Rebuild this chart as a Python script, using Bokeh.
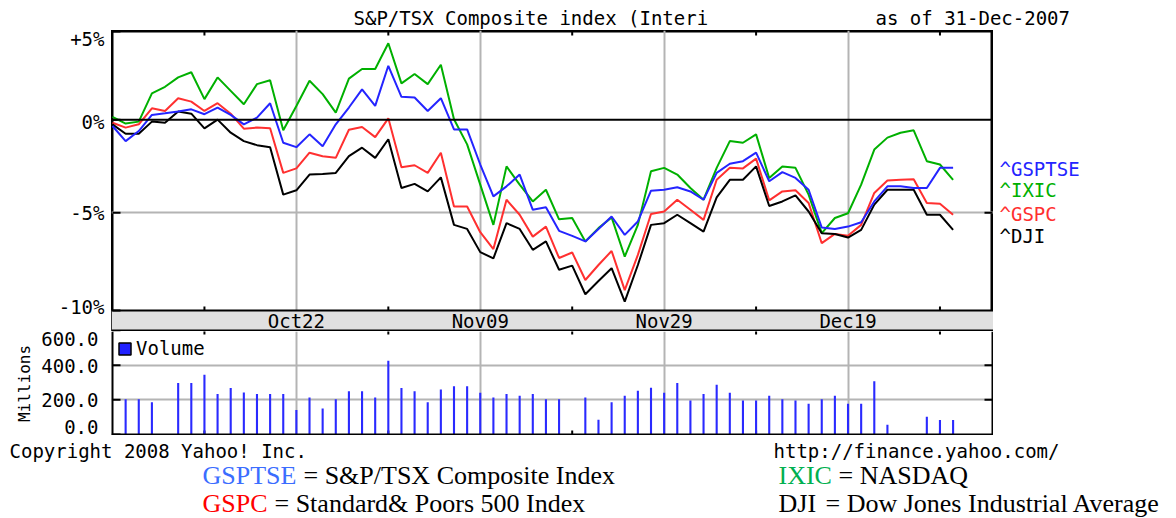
import math
import numpy as np
import pandas as pd
from bokeh.plotting import figure
from bokeh.models import (FixedTicker, Label, Span, Legend, LegendItem, Range1d,
                          Spacer, BoxAnnotation)
from bokeh.layouts import column, row
from bokeh.embed import file_html
from bokeh.resources import INLINE
from bokeh.core.properties import value

# ---------------- data ----------------
# trading weekdays 2-Oct-2007 .. 31-Dec-2007
dates = pd.bdate_range("2007-10-02", "2007-12-31")
day_names = [d.strftime("%b%d") for d in dates]

# % change since start of period
gsptse = [-0.34, -1.17, -0.62, 0.27, 0.36, 0.46, 0.58, 0.31, 0.68, 0.27,
          -0.25, 0.12, 0.92, -1.26, -1.50, -0.80, -1.45, -0.25, 0.68, 1.70,
          0.77, 3.03, 1.28, 1.24, 0.49, 1.20, -0.53, -0.53, -2.44, -4.14,
          -3.61, -2.98, -4.85, -4.72, -5.95, -6.21, -6.50, -5.85, -5.20, -6.16,
          -5.46, -3.84, -3.79, -3.66, -3.88, -4.32, -2.89, -2.40, -2.26, -1.80,
          -3.34, -2.85, -3.16, -3.79, -5.78, -5.86, -5.73, -5.50, -4.41, -3.61,
          -3.61, -3.70, -3.70, -2.62, -2.62]
ixic = [0.16, -0.21, -0.10, 1.47, 1.84, 2.37, 2.66, 1.15, 2.37, 1.61,
        0.86, 1.99, 2.21, -0.58, 0.77, 2.18, 1.43, 0.40, 2.30, 2.85,
        2.85, 4.32, 2.03, 2.56, 1.99, 3.09, 0.03, -1.35, -3.52, -5.64,
        -2.54, -3.52, -4.41, -3.79, -5.35, -5.28, -6.50, -5.81, -5.25, -7.28,
        -5.64, -2.80, -2.62, -2.98, -3.70, -4.32, -2.62, -1.17, -1.26, -0.80,
        -3.17, -2.55, -2.62, -4.05, -6.07, -5.28, -5.03, -3.52, -1.63, -0.98,
        -0.71, -0.58, -2.26, -2.44, -3.26]
gspc = [-0.16, -0.43, -0.25, 0.64, 0.49, 1.20, 1.01, 0.49, 0.92, 0.34,
        -0.49, -0.43, -0.47, -2.89, -2.65, -1.80, -1.99, -2.08, -0.55, -0.40,
        -0.95, 0.08, -2.59, -2.48, -2.89, -1.80, -4.68, -4.68, -6.02, -6.89,
        -4.32, -5.11, -6.25, -5.73, -7.35, -7.07, -8.47, -7.71, -6.99, -8.98,
        -7.19, -5.07, -4.94, -4.32, -4.85, -5.38, -3.26, -2.62, -2.65, -2.12,
        -4.35, -3.88, -3.82, -4.49, -6.59, -6.11, -6.20, -5.64, -3.96, -3.30,
        -3.26, -3.23, -4.49, -4.53, -5.11]
dji = [-0.25, -0.77, -0.77, -0.10, -0.16, 0.46, 0.34, -0.47, 0.01, -0.71,
       -1.17, -1.39, -1.50, -4.05, -3.82, -2.98, -2.95, -2.89, -1.99, -1.53,
       -2.08, -1.07, -3.70, -3.48, -3.88, -3.13, -5.64, -5.85, -7.05, -7.37,
       -5.55, -5.85, -6.93, -6.50, -7.95, -7.74, -9.19, -8.52, -7.87, -9.56,
       -7.71, -5.64, -5.55, -5.11, -5.55, -5.99, -4.20, -3.26, -3.26, -2.54,
       -4.65, -4.41, -4.09, -4.94, -6.07, -6.11, -6.30, -5.90, -4.58, -3.79,
       -3.79, -3.79, -5.11, -5.11, -5.90]
# volume, millions (None = no bar)
volume = [None, 204, 204, 186, None, 297, 297, 344, 233, 268,
          243, 233, 233, 233, 142, 214, 150, 204, 250, 250,
          214, 425, 268, 250, 186, 260, 278, 278, 241, 214,
          233, 223, 233, 204, 204, None, 214, 85, 186, 223,
          252, 270, 241, 297, 196, 233, 287, 241, 196, 196,
          223, 204, 196, 177, 204, 223, 177, 177, 307, 56,
          None, None, 103, 83, 83]

date_labels = ["Oct22", "Nov09", "Nov29", "Dec19"]
minor_tick_days = ["Oct11", "Oct31", "Nov20", "Dec10", "Dec28"]
pct_ticks = [-10, -5, 0, 5]
pct_tick_labels = ["-10%", "-5%", "0%", "+5%"]
vol_ticks = [0, 200, 400, 600]
vol_tick_labels = ["0.0", "200.0", "400.0", "600.0"]

series_names = ["^GSPTSE", "^IXIC", "^GSPC", "^DJI"]
series_colors = ["#2424ff", "#00b000", "#ff3030", "#000000"]

# ---------------- layout (page pixels) ----------------
MONO = "DejaVu Sans Mono"
SERIF = "Liberation Serif"
FS = "19px"
W, H = 1176, 518
CL, CR = 111, 993            # chart canvas columns (frame line centres at 112 / 992)
FL, FR = 112, 992
X_MAX = 67
PXD = (FR - FL) / X_MAX      # px per trading day
pad = (FL - CL) / PXD
x = np.arange(len(dates))
major_x = [day_names.index(d) for d in date_labels]
minor_x = [day_names.index(d) for d in minor_tick_days]
n = len(minor_x)

TOP0 = 30                    # title strip 0..30
P1_TOP, P1_BOT = 31, 310     # price frame lines
C1_TOP, C1_BOT = 30, 331     # price canvas (includes the date band)
BAND_MID, BAND_LINE = 320, 330
C2_TOP, C2_BOT = 331, 435    # volume canvas
P2_TOP, P2_BOT = 330, 434    # volume frame lines
SPLIT = 438                  # start of the bottom text strip

YLO, YHI = 1 + pct_ticks[0] / 100, 1 + pct_ticks[-1] / 100
LOGSPAN = math.log(YHI / YLO)
def y1(py):      # page row -> price-scale value
    return math.exp(math.log(YHI) - (py - P1_TOP) / (P1_BOT - P1_TOP) * LOGSPAN)
def py1(v):      # price-scale value -> page row
    return P1_TOP + (math.log(YHI) - math.log(v)) / LOGSPAN * (P1_BOT - P1_TOP)

VT = vol_ticks[-1]
def y2(py):
    return (P2_BOT - py) / (P2_BOT - P2_TOP) * VT
def py2(v):
    return P2_BOT - v / VT * (P2_BOT - P2_TOP)

xr = Range1d(-pad, X_MAX + pad)
y1r = Range1d(y1(C1_BOT), y1(C1_TOP))
y2r = Range1d(y2(C2_BOT), y2(C2_TOP))
GRID = "#b4b4b4"
TICK = 4      # small date ticks (px)
RT = 8        # inner y ticks (px)

def fig(width, height, xrange, yrange, ylog=False):
    f = figure(width=width, height=height, x_range=xrange, y_range=yrange,
               y_axis_type="log" if ylog else "linear",
               x_axis_location=None, y_axis_location=None,
               output_backend="svg", toolbar_location=None, min_border=0,
               outline_line_color=None, background_fill_color="white",
               border_fill_color="white")
    return f

def text_fig(width, height, x0, y0):
    f = fig(width, height, Range1d(x0, x0 + width), Range1d(y0 + height, y0))
    f.grid.visible = False
    return f

def mono(f, px, py, text, color="black", size=FS, align="left", angle=0):
    f.add_layout(Label(x=px, y=py, text=text, text_color=color, text_font=MONO,
                       text_font_size=size, text_baseline="middle", text_align=align,
                       angle=angle))

seg = dict(line_color="black", line_width=2)

# ---------------- title strip ----------------
p0 = text_fig(W - CL, TOP0, CL, 0)
mono(p0, 353, 17, "S&P/TSX Composite index (Interi")
mono(p0, 875, 17, "as of 31-Dec-2007")

# ---------------- price chart + date band ----------------
p1 = fig(CR - CL, C1_BOT - C1_TOP, xr, y1r, ylog=True)
p1.outline_line_color = "black"
p1.outline_line_width = 4          # half clipped -> 2 px frame line
p1.xgrid.ticker = FixedTicker(ticks=major_x)
p1.xgrid.grid_line_color = GRID
p1.xgrid.grid_line_width = 2
pt = [1 + v / 100 for v in pct_ticks]
p1.ygrid.ticker = FixedTicker(ticks=[pt[1]])
p1.ygrid.grid_line_color = GRID
p1.ygrid.grid_line_width = 2
p1.add_layout(BoxAnnotation(top=YLO, fill_color="#e0e0e0", fill_alpha=1,
                            line_color=None, level="underlay"))
p1.add_layout(Span(location=pt[2], dimension="width", line_color="black", line_width=2))
p1.add_layout(Span(location=YLO, dimension="width", line_color="black", line_width=2))
p1.add_layout(Span(location=y1(BAND_LINE), dimension="width", line_color="black",
                   line_width=2))

p1.segment(x0=minor_x, x1=minor_x, y0=[YHI] * n, y1=[y1(P1_TOP + TICK)] * n, **seg)
p1.segment(x0=minor_x, x1=minor_x, y0=[YLO] * n, y1=[y1(P1_BOT - TICK)] * n, **seg)
p1.segment(x0=[0] * 4, x1=[RT / PXD] * 4, y0=pt, y1=pt, **seg)
p1.segment(x0=[X_MAX], x1=[X_MAX - RT / PXD], y0=[pt[1]], y1=[pt[1]], **seg)

data = {"^GSPTSE": gsptse, "^IXIC": ixic, "^GSPC": gspc, "^DJI": dji}
colors = dict(zip(series_names, series_colors))
for name in ["^IXIC", "^GSPC", "^DJI", "^GSPTSE"]:
    p1.line(x, [1 + v / 100 for v in data[name]], line_color=colors[name], line_width=2)

p1.text(x=major_x, y=[y1(BAND_MID)] * len(major_x), text=date_labels,
        text_font=value(MONO), text_font_size=value(FS),
        text_align="center", text_baseline="middle", text_color="black")

# series names to the right of the price chart (same log scale)
pr = fig(W - CR, C1_BOT - C1_TOP, Range1d(CR, W), y1r, ylog=True)
pr.grid.visible = False
for name, py in zip(series_names, [168, 189, 213, 235]):
    mono(pr, 999, y1(py), name, colors[name])

# ---------------- volume chart ----------------
p2 = fig(CR - CL, C2_BOT - C2_TOP, xr, y2r)
p2.xgrid.ticker = FixedTicker(ticks=major_x)
p2.xgrid.grid_line_color = GRID
p2.xgrid.grid_line_width = 2
p2.ygrid.ticker = FixedTicker(ticks=vol_ticks[1:3])
p2.ygrid.grid_line_color = GRID
p2.ygrid.grid_line_width = 2
for loc, dim in [(xr.start, "height"), (xr.end, "height"), (y2r.start, "width")]:
    p2.add_layout(Span(location=loc, dimension=dim, line_color="black", line_width=4))

p2.segment(x0=minor_x, x1=minor_x, y0=[VT] * n, y1=[y2(P2_TOP + TICK)] * n, **seg)
p2.segment(x0=minor_x, x1=minor_x, y0=[0] * n, y1=[y2(P2_BOT - TICK)] * n, **seg)
p2.segment(x0=[0] * 4, x1=[RT / PXD] * 4, y0=vol_ticks, y1=vol_ticks, **seg)
p2.segment(x0=[X_MAX] * 2, x1=[X_MAX - RT / PXD] * 2, y0=vol_ticks[1:3],
           y1=vol_ticks[1:3], **seg)

vol = np.array([np.nan if v is None else v for v in volume], dtype=float)
p2.vbar(x=x, top=vol, bottom=0, width=0.16, fill_color="#2a2aff", line_color=None)

swatch = p2.quad(left=[np.nan], right=[np.nan], top=[np.nan], bottom=[np.nan],
                 fill_color="#2020ff", line_color="black", line_width=1.5)
leg = Legend(items=[LegendItem(label="Volume", renderers=[swatch])],
             location="top_left", margin=6, padding=4, spacing=0,
             border_line_color=None, background_fill_alpha=0,
             label_text_font=MONO, label_text_font_size=FS,
             label_text_color="black",
             glyph_width=15, glyph_height=15, label_standoff=4)
p2.add_layout(leg)

pr2 = fig(W - CR, C2_BOT - C2_TOP, Range1d(CR, W), y2r)
pr2.grid.visible = False

# ---------------- left strip: y tick labels of both charts ----------------
pl = text_fig(CL, SPLIT, 0, 0)
for t, lab, off in zip(pt, pct_tick_labels, [-4, 0, 2, 7]):
    mono(pl, FL - 8, py1(t) + off, lab, align="right")
for t, lab, off in zip(vol_ticks, vol_tick_labels, [-8, 0, 1, 8]):
    mono(pl, FL - 14, py2(t) + off, lab, align="right")
mono(pl, 24, 383, "Millions", size="16px", align="center", angle=math.pi / 2)

# ---------------- bottom text strip ----------------
p3 = text_fig(W, H - SPLIT, 0, SPLIT)
mono(p3, 9, 450, "Copyright 2008 Yahoo! Inc.")
mono(p3, 773, 450, "http://finance.yahoo.com/")

SFS = "26px"
legend_rows = [
    (202, 475, "GSPTSE", "#3b6dff", "= S&P/TSX Composite Index", 94),
    (202, 503, "GSPC", "#ff0000", "= Standard& Poors 500 Index", 65),
    (778, 475, "IXIC", "#00b050", "= NASDAQ", 53),
    (778, 503, "DJI", "#000000", "= Dow Jones Industrial Average", 40),
]
for px, py, code, col, rest, wcode in legend_rows:
    p3.add_layout(Label(x=px, y=py, text=code, text_color=col,
                        text_font=SERIF, text_font_size=SFS, text_baseline="middle"))
    p3.add_layout(Label(x=px + wcode + 7, y=py, text=rest, text_color="black",
                        text_font=SERIF, text_font_size=SFS, text_baseline="middle"))

right = column(p0, row(p1, pr, spacing=0), row(p2, pr2, spacing=0),
               Spacer(width=W - CL, height=SPLIT - C2_BOT), spacing=0)
layout = column(row(pl, right, spacing=0), p3, spacing=0)
open("out.html", "w").write(file_html(layout, INLINE))
